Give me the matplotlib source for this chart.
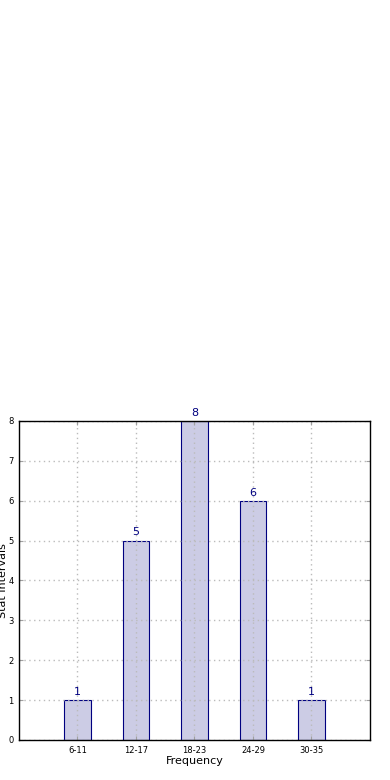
import numpy as np
import matplotlib
matplotlib.use('Agg')
from matplotlib import pyplot as plt

# 数据
intervals = ['6-11', '12-17', '18-23', '24-29', '30-35']
counts = [1, 5, 8, 6, 1]

fig = plt.figure(figsize=(3.9, 7.8), dpi=100)
ax = fig.add_axes([0.0487, 0.0513, 0.9, 0.409])

x = np.arange(1, len(intervals) + 1)
ax.bar(x, counts, width=0.45, color='navy', alpha=0.2, zorder=1)
ax.bar(x, counts, width=0.45, fill=False, edgecolor='navy', linewidth=0.8, zorder=2)

# 柱顶标注
for xi, c in zip(x, counts):
    ax.text(xi, c + 0.08, str(c), ha='center', va='bottom', color='navy', fontsize=8)

ax.set_xlim(0, 6)
ax.set_ylim(0, 8)
ax.set_xticks(x)
ax.set_xticklabels(intervals)
ax.set_yticks(range(0, 9))
ax.tick_params(direction='in', top=True, right=True, labelsize=6, length=3, width=0.8,
               color='#a0a0a0', pad=4)
ax.grid(True, color='#bbbbbb', linestyle=(0, (1, 2.5)), linewidth=1, zorder=3)
ax.set_axisbelow(False)
for s in ax.spines.values():
    s.set_linewidth(1)
    s.set_zorder(5)

ax.set_xlabel('Frequency', fontsize=8, labelpad=1)
ax.set_ylabel('Stat Intervals', fontsize=8)
ax.yaxis.set_label_coords(-0.031, 0.5)

plt.savefig('out.png', dpi=100)
